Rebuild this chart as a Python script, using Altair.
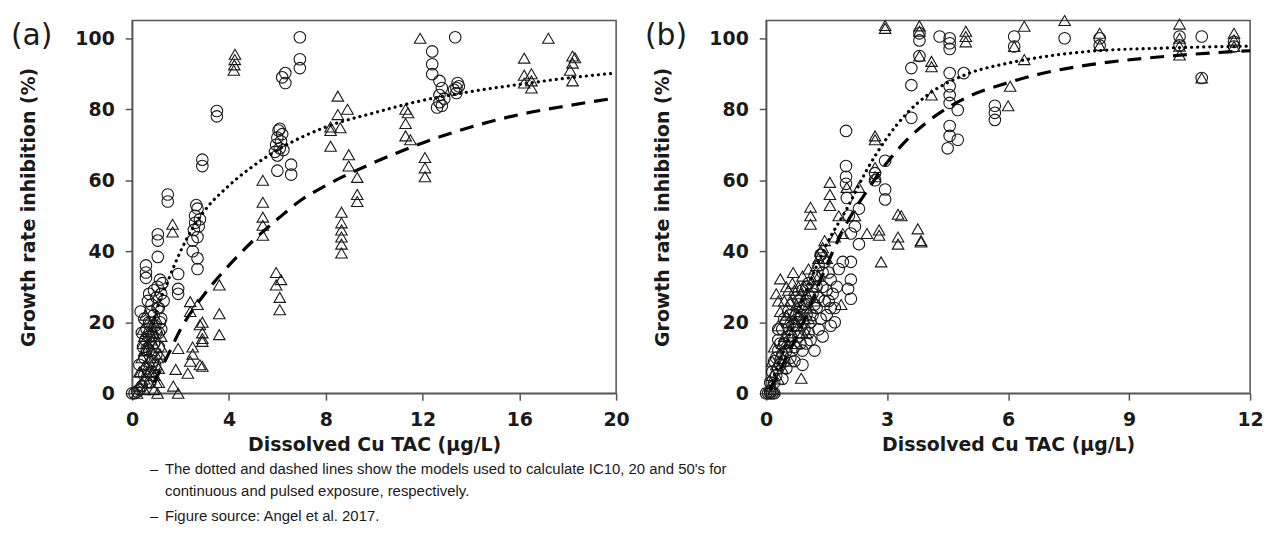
import altair as alt
import pandas as pd

# ---------------- Panel (a) ----------------
a_cont_x = [0.0, 0.1, 0.2, 0.3, 0.35, 0.4, 0.5, 0.5, 0.45, 0.55, 0.6, 0.6, 0.7, 0.7, 0.75, 0.8, 0.8, 0.85, 0.9, 0.9,
            0.95, 1.0, 1.0, 1.05, 1.1, 1.1, 1.15, 1.2, 1.2, 0.57, 0.57, 0.57, 1.06, 1.06, 1.06, 1.47, 1.47, 1.9, 1.9, 1.9,
            0.3, 0.4, 0.5, 0.6, 0.65, 0.7, 0.75, 0.8, 0.85, 0.9, 0.95, 1.0, 1.05, 1.1, 1.15, 0.6, 0.7, 1.25, 1.3, 1.2,
            2.5, 2.5, 2.55, 2.6, 2.6, 2.7, 2.65, 2.75, 2.8, 2.7, 2.7, 2.7, 2.9, 2.9, 3.5, 3.5,
            5.9, 5.95, 6.0, 6.05, 6.1, 6.15, 6.0, 6.2, 6.25, 6.1, 6.0, 6.57, 6.57, 6.33, 6.33, 6.2, 6.93, 6.93, 6.93,
            12.4, 12.4, 12.4, 12.6, 12.7, 12.7, 12.8, 12.7, 12.9, 13.35, 13.4, 13.4, 13.45, 13.3, 13.5, 12.8]
a_cont_y = [0, 0, 0.5, 1, 23, 2, 5, 10, 13, 15, 18, 7, 12, 20, 3, 16, 25, 9, 14, 22,
            19, 11, 27, 30, 17, 24, 32, 21, 28, 36, 34, 32.5, 44.8, 43, 38.4, 56, 54, 33.6, 29.4, 28,
            8, 17, 21, 3, 26, 16, 23, 6, 19, 29, 8, 17, 24, 13, 20, 12.5, 28, 31, 26, 18,
            40, 43, 46, 48, 50, 52, 53, 47, 49, 44, 38, 35, 65.8, 64, 79.5, 78,
            68, 70, 72, 74, 69, 71, 67, 73, 68.5, 74.5, 62.7, 64.4, 61.6, 90.2, 87.4, 89, 100.3, 94.1, 91.6,
            96.3, 92.7, 89.9, 80.5, 82, 84, 86, 88, 83, 100.3, 84.6, 86, 87.4, 85.5, 86.5, 81]

a_puls_x = [0.2, 0.3, 0.35, 0.4, 0.45, 0.5, 0.5, 0.55, 0.6, 0.6, 0.65, 0.7, 0.7, 0.75, 0.8, 0.85, 0.9, 0.9, 0.95, 1.0,
            1.0, 1.05, 1.1, 1.15, 1.2, 1.67, 1.67, 1.7, 1.8, 1.9, 1.9, 2.3, 2.4, 2.4, 2.5, 2.5, 2.7, 2.8, 2.8, 2.9,
            0.3, 0.4, 0.45, 0.5, 0.55, 0.6, 0.65, 0.7, 0.75, 0.8, 0.85, 0.9, 0.95, 1.0, 1.05, 1.1, 1.2, 0.5,
            2.9, 2.9, 2.9, 2.9, 2.4, 3.6, 3.6, 3.6, 4.2, 4.22, 4.24, 4.25,
            5.4, 5.4, 5.4, 5.4, 5.4, 5.95, 6.15, 5.95, 6.1, 6.1,
            8.2, 8.2, 8.6, 8.5, 8.9, 8.5, 8.2, 8.95, 8.95, 9.3, 9.3, 9.3, 8.65, 8.65, 8.65, 8.65, 8.65, 8.65,
            11.3, 11.4, 11.3, 11.3, 11.5, 11.9, 12.1, 12.1, 12.1,
            16.2, 16.2, 16.2, 16.5, 16.5, 16.5, 17.2, 18.2, 18.2, 18.1, 18.2, 18.3]
a_puls_y = [0, 2, 6, 10, 14, 1, 4, 8, 12, 17.4, 20, 3, 6, 10, 15, 18, 1, 5, 13, 8,
            21, 0, 3, 11, 16, 47.6, 45.4, 2, 6.7, 12.6, 0, 5.6, 9, 23, 13, 11, 25, 8, 19.3, 15.4,
            6, 3, 18, 12, 22, 6, 14, 9, 17, 12, 6, 20, 16, 3, 10, 7, 13, 16,
            20, 17, 14.6, 7.6, 25.8, 30.5, 22.4, 16.5, 91, 92.5, 94, 95.5,
            60, 53.8, 49.6, 47.3, 44.5, 34, 32, 30.5, 27, 23.5,
            74, 75, 74.8, 83.7, 80, 78.5, 69.6, 67.2, 64, 60.8, 56, 54, 51, 48, 46, 44, 42, 39.5,
            80, 79, 76, 72.5, 71.4, 100, 66.4, 63.5, 61,
            94.4, 89.6, 87.4, 90, 88, 86, 100, 95, 93, 91, 88, 94.5]

a_dot_x = [0.8, 1.0, 1.5, 2.0, 2.5, 3.0, 4.0, 5.0, 6.0, 8.0, 10, 12, 14, 16, 18, 20]
a_dot_y = [18, 23, 32, 40, 46.5, 51.5, 58.5, 64, 68.5, 75, 79, 82.5, 85, 87, 88.8, 90.2]
a_dash_x = [0.9, 1.5, 2, 3, 4, 5, 6, 7, 8, 10, 12, 14, 16, 18, 20]
a_dash_y = [3, 11, 18, 28, 36, 43, 49, 54.5, 58.5, 65, 70.5, 75, 78.5, 81, 83.2]

# ---------------- Panel (b) ----------------
b_cont_x = [0, 0.05, 0.1, 0.15, 0.2, 0.1, 0.1, 0.15, 0.2, 0.25, 0.3, 0.3, 0.35, 0.4, 0.4, 0.45, 0.5, 0.5, 0.55, 0.6,
            0.6, 0.65, 0.7, 0.7, 0.75, 0.8, 0.8, 0.85, 0.9, 0.9, 0.95, 1.0, 1.0, 1.05, 1.1, 1.1, 1.15, 1.2, 1.25, 1.3,
            1.3, 1.35, 1.4, 1.45, 1.5, 1.55, 1.6, 1.65, 1.7, 1.36, 1.9, 2.1, 2.1, 2.03, 2.1,
            0.2, 0.25, 0.3, 0.35, 0.4, 0.45, 0.5, 0.55, 0.6, 0.65, 0.7, 0.75, 0.8, 0.85, 0.9, 0.95, 1.0, 1.05, 1.1, 1.15,
            1.2, 1.25, 1.3, 1.35, 1.4, 1.45, 1.5, 1.55, 1.6, 1.7, 1.75, 1.8, 0.3, 0.45, 0.65, 0.9, 1.0, 1.2, 1.4, 1.6,
            1.98, 1.98, 1.98, 1.98, 2.0, 2.05, 2.1, 2.2, 2.3, 2.3, 2.7, 2.7, 2.95, 2.95, 2.95,
            3.6, 3.6, 3.6, 3.8, 3.8, 3.8, 4.3, 4.55, 4.55, 4.55, 4.55, 4.55, 4.55, 4.55, 4.55, 4.55, 4.5,
            4.75, 4.75, 4.9, 5.67, 5.67, 5.67, 6.15, 6.15, 7.4, 8.27, 8.27, 10.25, 10.25, 10.8, 10.8, 11.6, 11.6]
b_cont_y = [0, 0, 0, 0, 0, 0.5, 3, 6, 9, 5, 12, 15, 8, 18, 11, 14, 20, 7, 16, 22,
            10, 25, 19, 13, 27, 21, 16, 24, 29, 12, 18, 26, 22, 31, 20, 15, 28, 33, 24, 36,
            18, 39, 30, 26, 22, 34, 19, 28, 24, 39, 37, 37, 32, 29.4, 26.6,
            3, 10, 7, 14, 4, 9, 12, 23, 15, 19, 9, 22, 26, 14, 20, 25, 30, 17, 27, 22,
            25, 30, 27, 21, 34, 37, 29, 26, 32, 20, 30, 35, 18, 21, 12, 8, 14, 12, 16, 24,
            73.9, 64, 61, 59, 55, 50, 45, 47, 42, 52, 62, 60, 65.5, 57.4, 54.6,
            91.6, 86.8, 77.6, 101.4, 99.4, 95, 100.5, 100, 98.6, 97, 90.2, 86.5, 84, 81.8, 75.3, 72.5, 69,
            79.8, 71.4, 90.2, 77, 79, 81, 100.5, 97.7, 100, 98, 100, 100.5, 98, 100.5, 88.8, 99, 97.7]

b_puls_x = [0.1, 0.15, 0.2, 0.25, 0.3, 0.35, 0.35, 0.4, 0.45, 0.5, 0.55, 0.6, 0.6, 0.65, 0.67, 0.7, 0.7, 0.75, 0.8, 0.8,
            0.87, 0.9, 0.9, 0.95, 1.0, 1.0, 1.05, 1.1, 1.1, 1.1, 1.1, 1.2, 1.3, 1.4, 1.45, 1.58, 1.58, 1.58, 1.86, 1.9,
            0.15, 0.2, 0.3, 0.35, 0.4, 0.45, 0.5, 0.55, 0.6, 0.65, 0.7, 0.75, 0.8, 0.85, 0.9, 0.95, 1.0, 1.05, 1.15, 1.2,
            1.25, 1.3, 1.35, 1.5, 0.25, 0.3, 0.5, 1.7, 1.8, 2.0,
            2.3, 2.2, 2.5, 2.7, 2.7, 2.7, 2.7, 2.8, 2.8, 2.85, 2.95, 2.95, 3.27, 3.27, 3.27, 3.35, 3.76, 3.84, 3.84,
            3.8, 3.8, 3.8, 4.1, 4.1, 4.1, 4.95, 4.95, 4.95, 6.4, 6.15, 6.4, 6.05, 6.0, 7.4, 8.27, 8.27,
            10.25, 10.25, 10.25, 10.25, 10.8, 11.6, 11.6, 11.6]
b_puls_y = [2, 5, 1, 8, 4, 32.2, 11, 7, 16, 13, 20, 9, 26, 17, 34, 29, 23, 14, 30, 19,
            4.2, 25, 33, 21, 28, 17, 35, 52.4, 50, 47.6, 24, 30, 38, 41, 43, 59.4, 56, 52.9, 25, 45,
            9, 13, 19, 23, 14, 26, 22, 29, 18, 31, 20, 25, 22, 28, 17, 30, 24, 21, 32, 26,
            36, 33, 40, 38, 28, 26, 30, 44, 50, 58,
            58, 50, 45, 72.5, 71.4, 63.6, 61, 46, 44.5, 37, 102.8, 103.6, 44, 42, 50.4, 50, 46.3, 42.6, 43,
            102, 103.5, 95, 93.5, 92, 84, 99, 100.5, 102, 103.4, 97.7, 94, 86.5, 81, 105, 98, 101.4,
            104, 100, 97.8, 95.3, 88.8, 101.4, 99.5, 97.7]

b_dot_x = [0.1, 0.5, 1.0, 1.5, 2.0, 2.5, 3.0, 3.5, 4.0, 5, 6, 7, 8, 10, 12]
b_dot_y = [2, 14, 29, 42, 52, 63, 72, 79, 84, 90, 93, 95, 96.3, 97.3, 97.8]
b_dash_x = [0.1, 0.5, 1.0, 1.5, 2.0, 2.5, 3.0, 3.5, 4.0, 5, 6, 7, 8, 10, 12]
b_dash_y = [1, 10, 22, 36, 48, 57, 65, 71.5, 76.5, 83.5, 87.5, 90.5, 92.5, 95, 96.5]

y_ticks = [0, 20, 40, 60, 80, 100]
a_x_ticks = [0, 4, 8, 12, 16, 20]
b_x_ticks = [0, 3, 6, 9, 12]

caption_lines = [
    "The dotted and dashed lines show the models used to calculate IC10, 20 and 50's for",
    "continuous and pulsed exposure, respectively.",
    "Figure source: Angel et al. 2017.",
]
caption_dash = ["\u2013", "", "\u2013"]

W, H = 487, 375
FONT = "DejaVu Sans"
INK = "#1a1a1a"


def panel(label, cx, cy, px, py, dx, dy, sx, sy, xmax, xticks, caption=False):
    xs = alt.Scale(domain=[0, xmax], nice=False, zero=False)
    ys = alt.Scale(domain=[0, 105], nice=False, zero=False)
    xax = alt.Axis(values=xticks, title="Dissolved Cu TAC (\u00b5g/L)", format="d")
    yax = alt.Axis(values=y_ticks, title="Growth rate inhibition (%)", format="d")
    pts = pd.concat([
        pd.DataFrame({"x": cx, "y": cy, "s": "Continuous"}),
        pd.DataFrame({"x": px, "y": py, "s": "Pulsed"}),
    ])
    scatter = alt.Chart(pts).mark_point(filled=False, size=135, strokeWidth=1.1, opacity=1, color=INK).encode(
        x=alt.X("x:Q", scale=xs, axis=xax),
        y=alt.Y("y:Q", scale=ys, axis=yax),
        shape=alt.Shape("s:N", scale=alt.Scale(domain=["Continuous", "Pulsed"], range=["circle", "triangle-up"]),
                        legend=None),
    )
    dots = alt.Chart(pd.DataFrame({"x": dx, "y": dy})).mark_line(
        color="black", strokeWidth=3.2, strokeDash=[0.1, 6], strokeCap="round", interpolate="monotone"
    ).encode(x=alt.X("x:Q", scale=xs), y=alt.Y("y:Q", scale=ys))
    dash = alt.Chart(pd.DataFrame({"x": sx, "y": sy})).mark_line(
        color="black", strokeWidth=3.2, strokeDash=[14, 9], interpolate="monotone"
    ).encode(x=alt.X("x:Q", scale=xs), y=alt.Y("y:Q", scale=ys))
    lab = alt.Chart(pd.DataFrame({"t": [label]})).mark_text(
        font=FONT, fontSize=30, align="left", baseline="middle", color=INK
    ).encode(x=alt.value(-122), y=alt.value(16), text="t:N")
    layers = [scatter, dots, dash, lab]
    if caption:
        cap = pd.DataFrame({"t": caption_lines, "d": caption_dash, "yy": [451, 473, 499]})
        captext = alt.Chart(cap).mark_text(
            font="Liberation Sans Narrow, Liberation Sans", fontSize=15, align="left", baseline="middle", color=INK
        ).encode(x=alt.value(33), y=alt.Y("yy:Q", scale=None), text="t:N")
        capdash = alt.Chart(cap).mark_text(
            font="Liberation Sans", fontSize=15, align="left", baseline="middle", color=INK
        ).encode(x=alt.value(18), y=alt.Y("yy:Q", scale=None), text="d:N")
        layers += [captext, capdash]
    return alt.layer(*layers).properties(width=W, height=H)


pa = panel("(a)", a_cont_x, a_cont_y, a_puls_x, a_puls_y, a_dot_x, a_dot_y, a_dash_x, a_dash_y,
           20, a_x_ticks, caption=True)
pb = panel("(b)", b_cont_x, b_cont_y, b_puls_x, b_puls_y, b_dot_x, b_dot_y, b_dash_x, b_dash_y,
           12, b_x_ticks)

chart = alt.hconcat(pa, pb, spacing=151, bounds="flush").properties(
    padding={"left": 10, "top": 11, "right": 5, "bottom": 5},
    background="white",
).configure_view(stroke="#555555", strokeWidth=1.5).configure_axis(
    grid=False, labelFlush=False,
    domainColor="#555555", domainWidth=1.5,
    tickColor="#555555", tickWidth=1.5, tickSize=7,
    labelFont=FONT, labelFontWeight="bold", labelFontSize=19, labelColor=INK, labelPadding=11,
    titleFont=FONT, titleFontWeight="bold", titleFontSize=19, titleColor=INK,
).configure_axisX(titlePadding=6).configure_axisY(titlePadding=37)

chart.save("out.html", embed_options={"renderer": "svg", "actions": False})
